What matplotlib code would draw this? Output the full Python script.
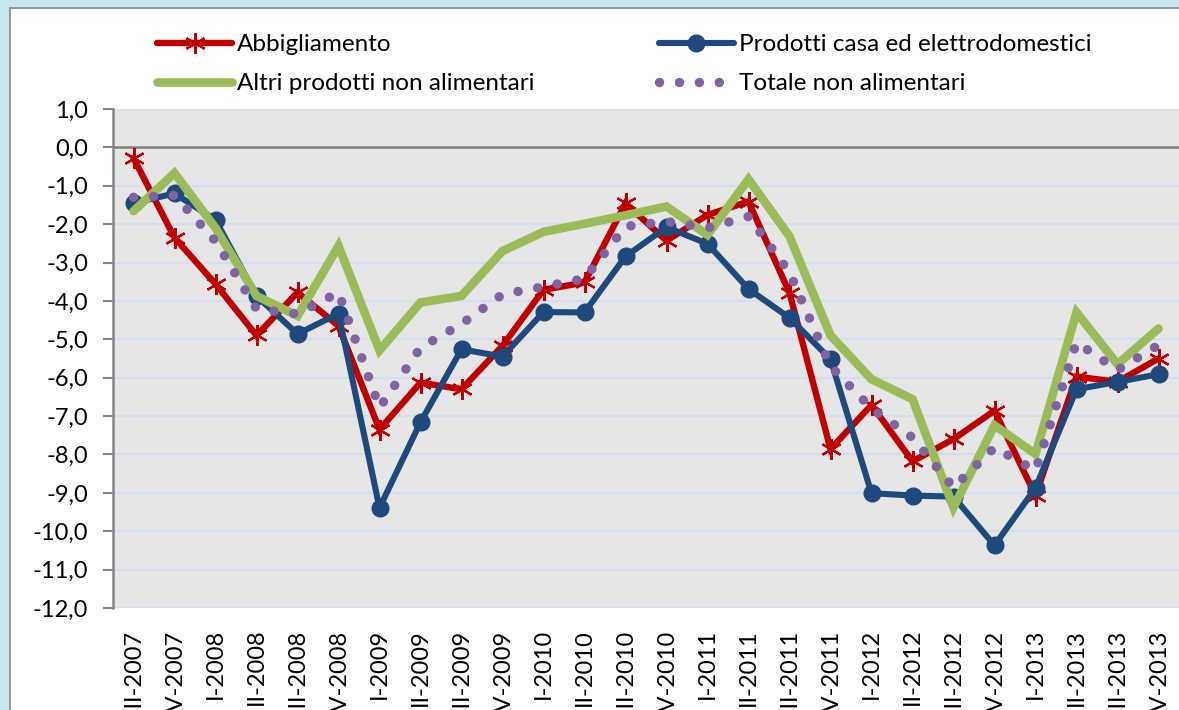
import matplotlib
matplotlib.use('Agg')
import matplotlib.pyplot as plt
from matplotlib.patches import Rectangle
from matplotlib.ticker import FuncFormatter
import numpy as np

plt.rcParams['font.family'] = ['Lato', 'DejaVu Sans']

# ---- data ----
quarters = ['III-2007', 'IV-2007',
            'I-2008', 'II-2008', 'III-2008', 'IV-2008',
            'I-2009', 'II-2009', 'III-2009', 'IV-2009',
            'I-2010', 'II-2010', 'III-2010', 'IV-2010',
            'I-2011', 'II-2011', 'III-2011', 'IV-2011',
            'I-2012', 'II-2012', 'III-2012', 'IV-2012',
            'I-2013', 'II-2013', 'III-2013', 'IV-2013']

abbigliamento = [-0.28, -2.35, -3.56, -4.90, -3.78, -4.65, -7.35, -6.13, -6.30, -5.17,
                 -3.71, -3.52, -1.46, -2.43, -1.76, -1.41, -3.79, -7.86, -6.71, -8.18,
                 -7.60, -6.86, -9.07, -5.97, -6.11, -5.50]
prodotti_casa = [-1.45, -1.20, -1.89, -3.87, -4.86, -4.33, -9.39, -7.16, -5.26, -5.45,
                 -4.29, -4.30, -2.84, -2.08, -2.51, -3.69, -4.44, -5.52, -9.01, -9.07,
                 -9.10, -10.37, -8.87, -6.30, -6.11, -5.91]
altri_prodotti = [-1.66, -0.67, -2.10, -3.87, -4.39, -2.57, -5.29, -4.04, -3.87, -2.70,
                  -2.20, -1.99, -1.77, -1.54, -2.28, -0.83, -2.32, -4.90, -6.04, -6.56,
                  -9.38, -7.24, -7.99, -4.30, -5.65, -4.72]
totale = [-1.30, -1.25, -2.44, -4.21, -4.34, -3.78, -6.78, -5.22, -4.60, -3.83,
          -3.63, -3.42, -2.06, -1.93, -2.10, -1.80, -3.26, -5.70, -6.80, -7.56,
          -8.86, -7.82, -8.42, -5.08, -5.80, -5.15]

labels = ['Abbigliamento', 'Prodotti casa ed elettrodomestici',
          'Altri prodotti non alimentari', 'Totale non alimentari']

x = np.arange(len(quarters))

fig = plt.figure(figsize=(11.79, 7.10), dpi=100)
fig.patch.set_facecolor('#c8e6ee')

# white chart panel with a grey border
panel = Rectangle((10 / 1179, -0.1), 1.1, 1 - 8 / 710 + 0.1, transform=fig.transFigure,
                  facecolor='white', edgecolor='#9a9a9a', linewidth=1.5, zorder=-5)
fig.patches.append(panel)

ax = fig.add_axes([113 / 1179, 1 - 608 / 710, 1 - 113 / 1179, (608 - 109) / 710])
ax.set_facecolor('#e6e6e6')

# gridlines
for v in range(-12, 2):
    if v == 0:
        continue
    ax.axhline(v, color='#d3def2', lw=1.6, zorder=1)
ax.axhline(0, color='#7f7f7f', lw=1.8, zorder=1)

l1, = ax.plot(x, abbigliamento, color='#c00000', lw=4.6, marker=(6, 2, 0), ms=15,
              mec='#c00000', mew=1.6, solid_joinstyle='miter', solid_capstyle='round',
              zorder=3)
l2, = ax.plot(x, prodotti_casa, color='#1f497d', lw=4.4, marker='o', ms=12,
              solid_joinstyle='miter', solid_capstyle='round', zorder=4)
l3, = ax.plot(x, altri_prodotti, color='#9bbb59', lw=6.2, solid_joinstyle='miter',
              solid_capstyle='round', zorder=5)
l4, = ax.plot(x, totale, color='#8064a2', lw=6.8, linestyle=(0, (0.01, 2.1)),
              dash_capstyle='round', zorder=6)

ax.set_xlim(-0.5, len(quarters) - 0.5)
ax.set_ylim(-12, 1)
ax.set_yticks(range(-12, 2))
ax.yaxis.set_major_formatter(FuncFormatter(lambda v, p: ('%.1f' % v).replace('.', ',')))
ax.set_xticks(x)
ax.set_xticklabels(quarters, rotation=90, va='top', ha='center')

ax.tick_params(axis='y', length=7, width=1.5, color='#868686', labelsize=17, pad=11)
ax.tick_params(axis='x', length=0, labelsize=17, pad=15)

for s in ['top', 'right', 'bottom']:
    ax.spines[s].set_visible(False)
ax.spines['left'].set_color('#868686')
ax.spines['left'].set_linewidth(1.8)

fig.legend([l1, l3, l2, l4], [labels[0], labels[2], labels[1], labels[3]],
           ncol=2, loc='upper left', bbox_to_anchor=(157 / 1179, 1 - 34 / 710),
           frameon=False, fontsize=17.5, handlelength=3.1, handletextpad=0.2,
           columnspacing=5.1, labelspacing=0.75, borderpad=0, borderaxespad=0)

fig.savefig('out.png', dpi=100, facecolor=fig.get_facecolor())
